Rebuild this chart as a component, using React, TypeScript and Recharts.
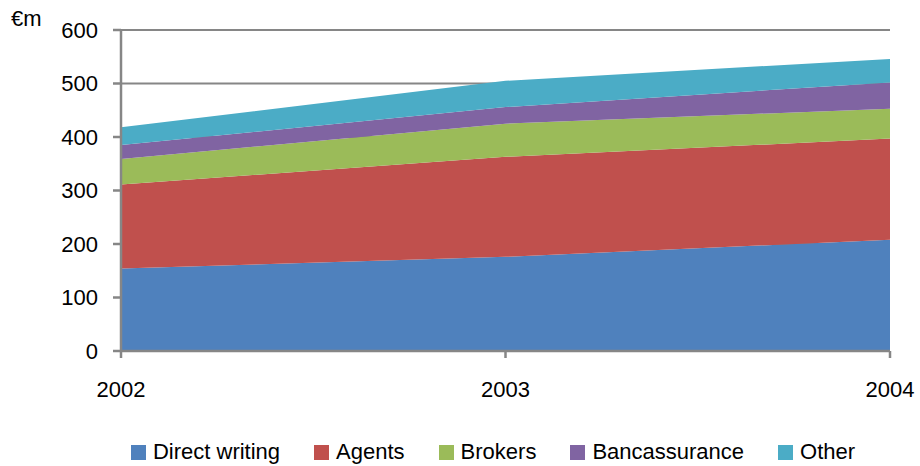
import { Area, AreaChart, CartesianGrid, Legend, XAxis, YAxis } from "recharts";

const YEARS = ["2002", "2003", "2004"];
const DIRECT_WRITING = [154, 176, 208];
const AGENTS = [157, 187, 189];
const BROKERS = [48, 62, 56];
const BANCASSURANCE = [26, 31, 49];
const OTHER = [33, 49, 44];
const Y_TICKS = [0, 100, 200, 300, 400, 500, 600];

const SERIES = [
  { key: "Direct writing", color: "#4F81BD", values: DIRECT_WRITING },
  { key: "Agents", color: "#C0504D", values: AGENTS },
  { key: "Brokers", color: "#9BBB59", values: BROKERS },
  { key: "Bancassurance", color: "#8064A2", values: BANCASSURANCE },
  { key: "Other", color: "#4BACC6", values: OTHER },
];

const data = YEARS.map((year, i) => {
  const row: Record<string, string | number> = { year };
  SERIES.forEach((s) => {
    row[s.key] = s.values[i];
  });
  return row;
});

const FONT = "'Liberation Sans', Arial, sans-serif";
const AXIS_COLOR = "#868686";

function LegendContent() {
  return (
    <div
      style={{
        display: "flex",
        justifyContent: "center",
        gap: 34,
        fontFamily: FONT,
        fontSize: 22,
        color: "#000",
        paddingLeft: 96,
        paddingTop: 8,
      }}
    >
      {SERIES.map((s) => (
        <div key={s.key} style={{ display: "flex", alignItems: "center" }}>
          <span
            style={{
              display: "inline-block",
              width: 15,
              height: 15,
              background: s.color,
              marginRight: 7,
            }}
          />
          <span>{s.key}</span>
        </div>
      ))}
    </div>
  );
}

export default function App() {
  return (
    <div style={{ position: "absolute", left: 0, top: 0, width: 920, height: 466, background: "#fff" }}>
      <div
        style={{
          position: "absolute",
          left: 11,
          top: 6,
          fontFamily: FONT,
          fontSize: 22,
          color: "#000",
        }}
      >
        €m
      </div>
      <AreaChart
        width={920}
        height={466}
        data={data}
        margin={{ top: 30, right: 30, left: 0, bottom: 0 }}
      >
        <CartesianGrid vertical={false} stroke={AXIS_COLOR} strokeWidth={2} />
        <XAxis
          dataKey="year"
          stroke={AXIS_COLOR}
          strokeWidth={2.5}
          tickSize={7}
          tickMargin={23}
          height={80}
          tick={{ fill: "#000", fontSize: 22, fontFamily: FONT }}
        />
        <YAxis
          domain={[0, 600]}
          ticks={Y_TICKS}
          width={121}
          stroke={AXIS_COLOR}
          strokeWidth={2.5}
          tickSize={8}
          tickMargin={15}
          tick={{ fill: "#000", fontSize: 22, fontFamily: FONT }}
        />
        <Legend verticalAlign="bottom" height={35} content={<LegendContent />} />
        {SERIES.map((s) => (
          <Area
            key={s.key}
            type="linear"
            dataKey={s.key}
            stackId="channels"
            stroke="none"
            fill={s.color}
            fillOpacity={1}
            isAnimationActive={false}
          />
        ))}
      </AreaChart>
    </div>
  );
}
